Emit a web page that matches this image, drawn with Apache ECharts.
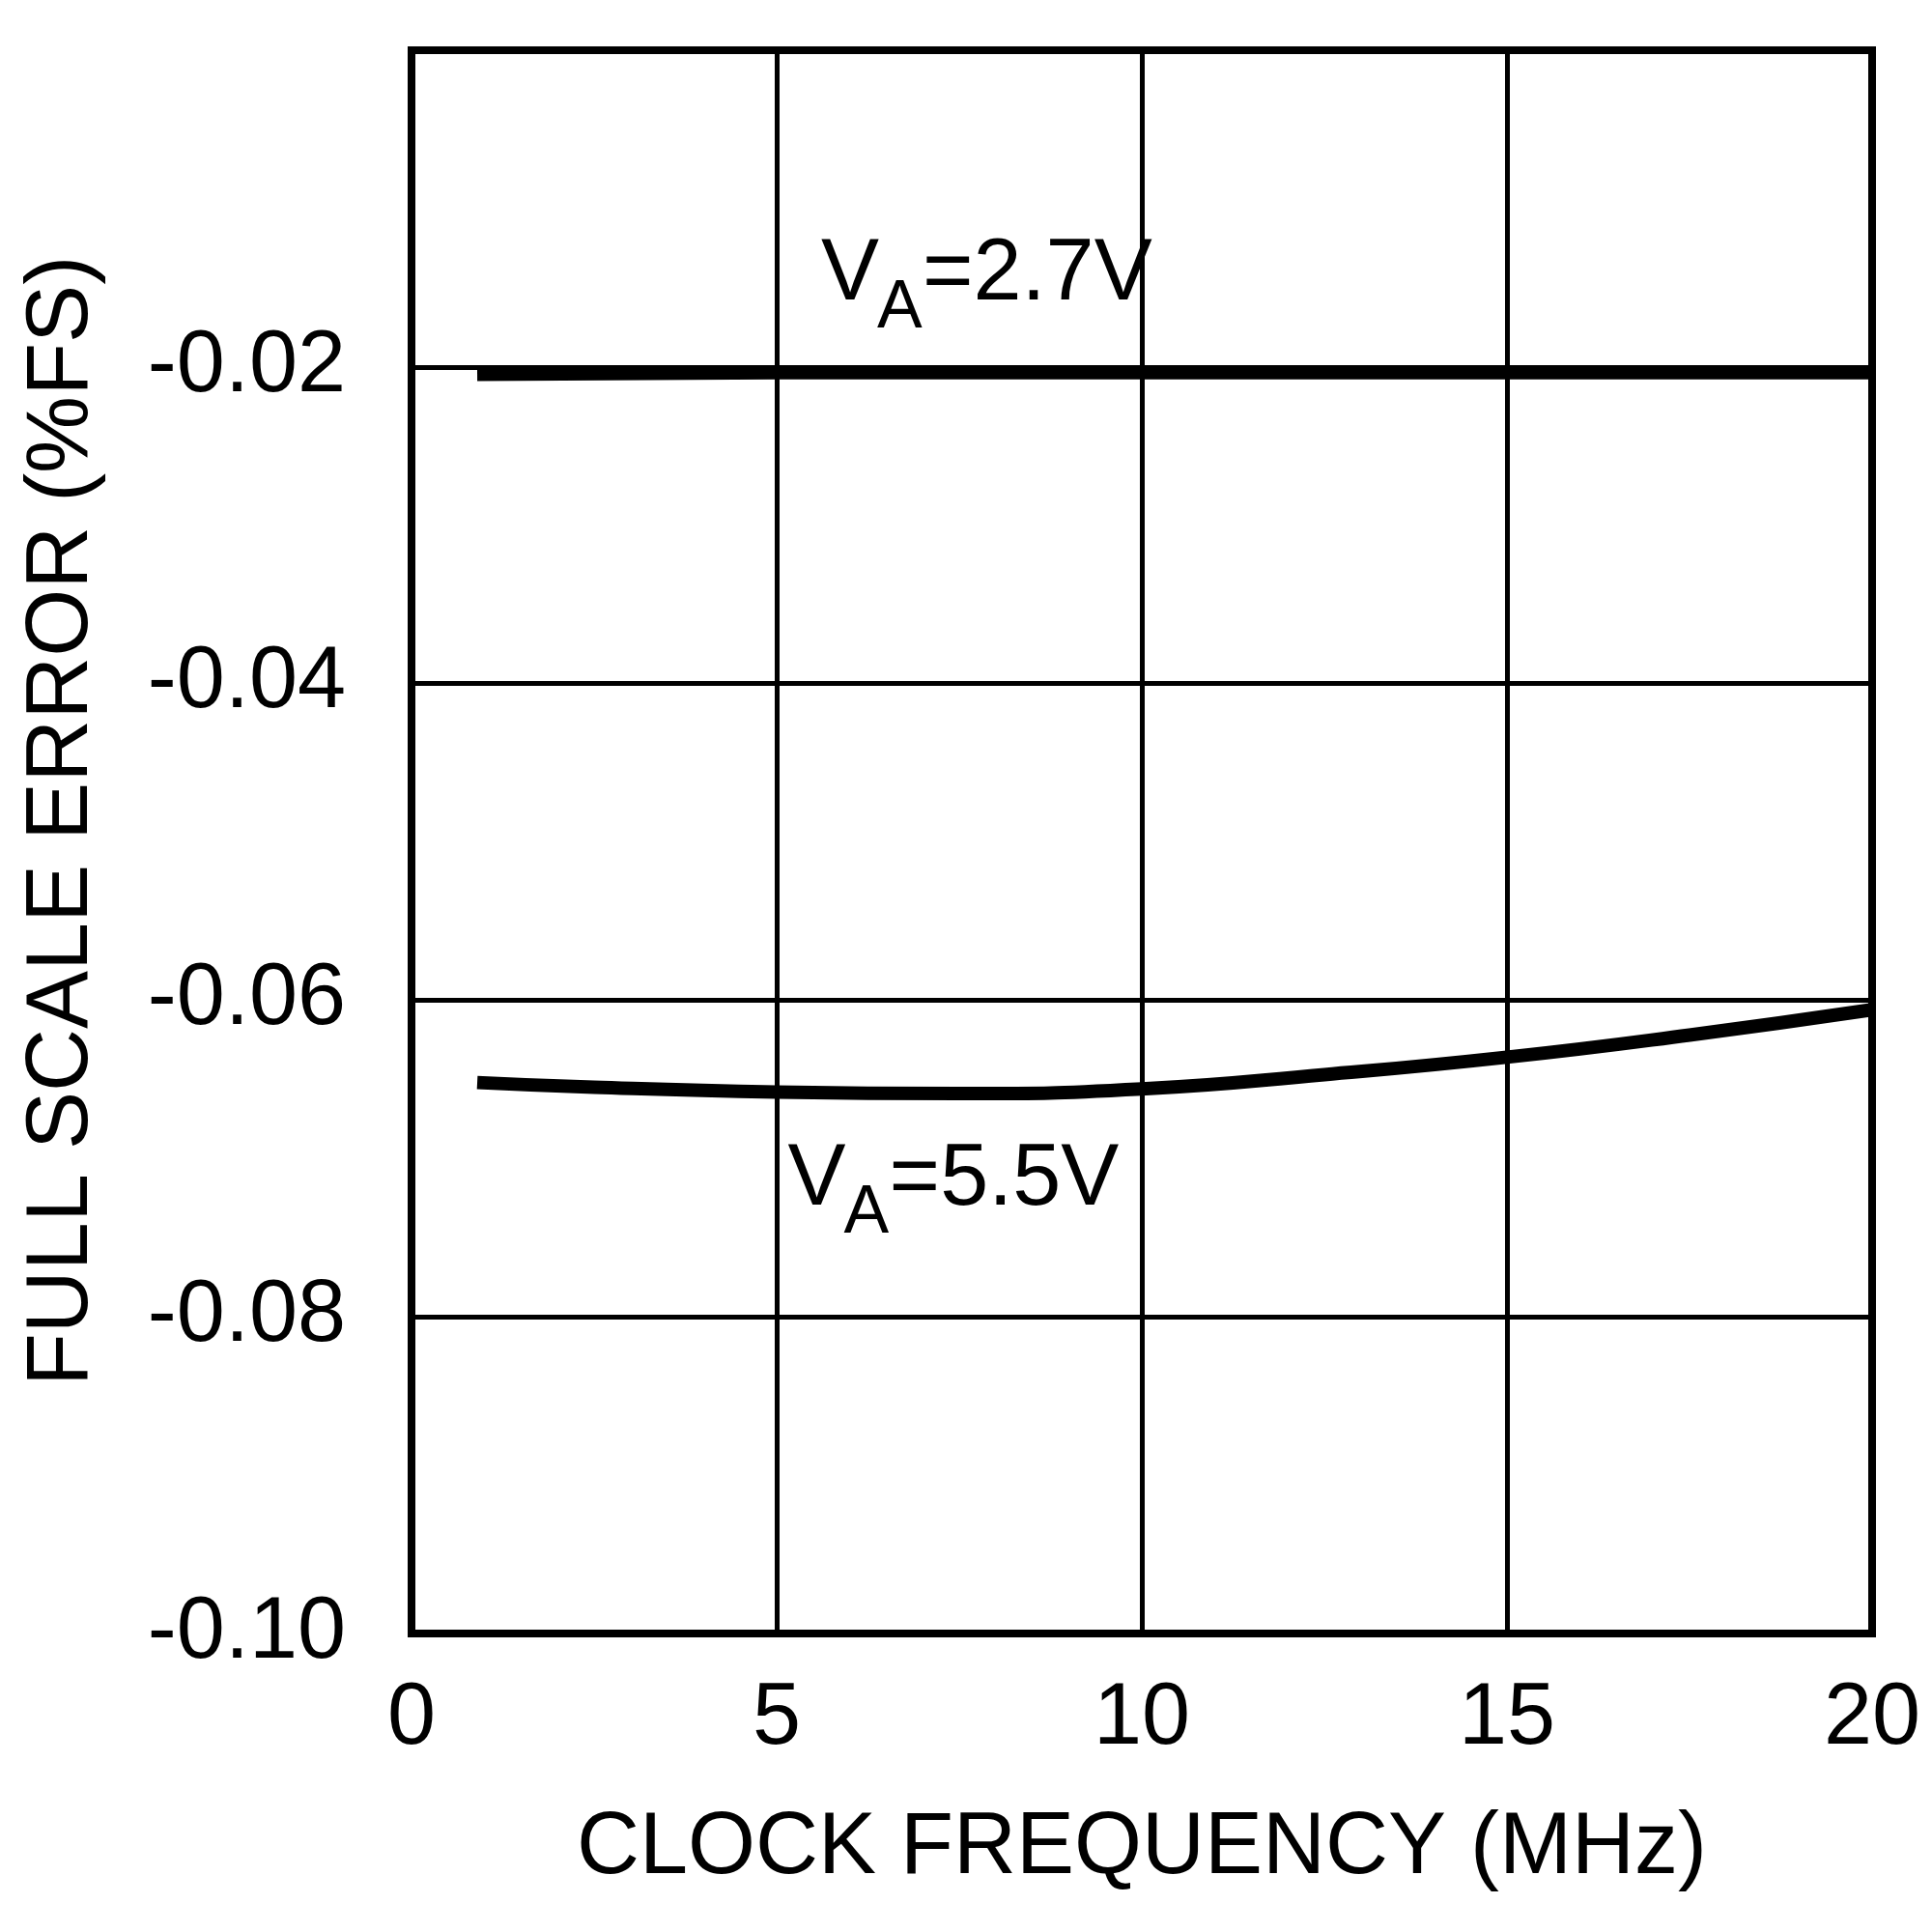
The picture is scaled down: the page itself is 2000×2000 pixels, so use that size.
<!DOCTYPE html>
<html><head><meta charset="utf-8">
<script src="https://cdn.jsdelivr.net/npm/echarts@6/dist/echarts.min.js"></script>
<style>html,body{margin:0;padding:0;background:#fff}#c{width:2000px;height:2000px}</style>
</head><body><div id="c"></div>
<script>
// Data
const xTicks = [0, 5, 10, 15, 20];
const yTicks = [-0.10, -0.08, -0.06, -0.04, -0.02, 0];
const freq27 = [0.9, 5, 10, 15, 20];
const err27 = [-0.0205, -0.0204, -0.0204, -0.0204, -0.0204];
const freq55 = [0.9, 2.5, 5, 7.5, 10, 12.5, 15, 17.5, 20];
const err55 = [-0.0652, -0.0655, -0.0658, -0.0659, -0.0656, -0.0647, -0.0636, -0.0622, -0.0606];
const xTitle = 'CLOCK FREQUENCY (MHz)';
const yTitle = 'FULL SCALE ERROR (%FS)';
const annot27 = ['V', 'A', '=2.7V'];
const annot55 = ['V', 'A', '=5.5V'];

const FONT = '"Liberation Sans", Arial, sans-serif';
const chart = echarts.init(document.getElementById('c'), null, {renderer: 'canvas'});
const pairs = (xs, ys) => xs.map((x, i) => [x, ys[i]]);

chart.setOption({
  animation: false,
  backgroundColor: '#ffffff',
  grid: {left: 426, right: 62, top: 52, bottom: 309, show: true,
         borderColor: '#000', borderWidth: 8, backgroundColor: 'transparent'},
  xAxis: {
    type: 'value', min: xTicks[0], max: xTicks[xTicks.length - 1], interval: 5,
    axisLine: {show: false}, axisTick: {show: false},
    splitLine: {show: true, lineStyle: {color: '#000', width: 5}},
    axisLabel: {fontFamily: FONT, fontSize: 90, lineHeight: 90, color: '#000', margin: 44,
                formatter: v => String(Math.round(v))},
    name: xTitle, nameLocation: 'middle', nameGap: 178,
    nameTextStyle: {fontFamily: FONT, fontSize: 90, lineHeight: 90, color: '#000'}
  },
  yAxis: {
    type: 'value', min: yTicks[0], max: yTicks[yTicks.length - 1], interval: 0.02,
    axisLine: {show: false}, axisTick: {show: false},
    splitLine: {show: true, lineStyle: {color: '#000', width: 5}},
    axisLabel: {fontFamily: FONT, fontSize: 90, lineHeight: 90, color: '#000', margin: 68,
                formatter: v => Math.abs(v) < 1e-9 ? '' : v.toFixed(2)},
    name: yTitle, nameLocation: 'middle', nameGap: 316,
    nameTextStyle: {fontFamily: FONT, fontSize: 90, lineHeight: 90, color: '#000', padding: [0, 0, 0, 43]}
  },
  series: [
    {type: 'line', data: pairs(freq27, err27), symbol: 'none',
     lineStyle: {color: '#000', width: 13, cap: 'butt'}},
    {type: 'line', data: pairs(freq55, err55), symbol: 'none', smooth: 0.5,
     lineStyle: {color: '#000', width: 14, cap: 'butt'}}
  ]
});

function annot(parts, anchor) {
  const p = chart.convertToPixel({gridIndex: 0}, anchor);
  const base = {fill: '#000', fontFamily: FONT, align: 'left', verticalAlign: 'middle'};
  return [
    {type: 'text', z: 100, style: Object.assign({}, base, {text: parts[0], fontSize: 90, x: p[0], y: p[1]})},
    {type: 'text', z: 100, style: Object.assign({}, base, {text: parts[1], fontSize: 70, x: p[0] + 58, y: p[1] + 35})},
    {type: 'text', z: 100, style: Object.assign({}, base, {text: parts[2], fontSize: 90, x: p[0] + 105, y: p[1]})}
  ];
}
chart.setOption({graphic: annot(annot27, [5.608, -0.0142]).concat(annot(annot55, [5.153, -0.07137]))});
</script></body></html>
